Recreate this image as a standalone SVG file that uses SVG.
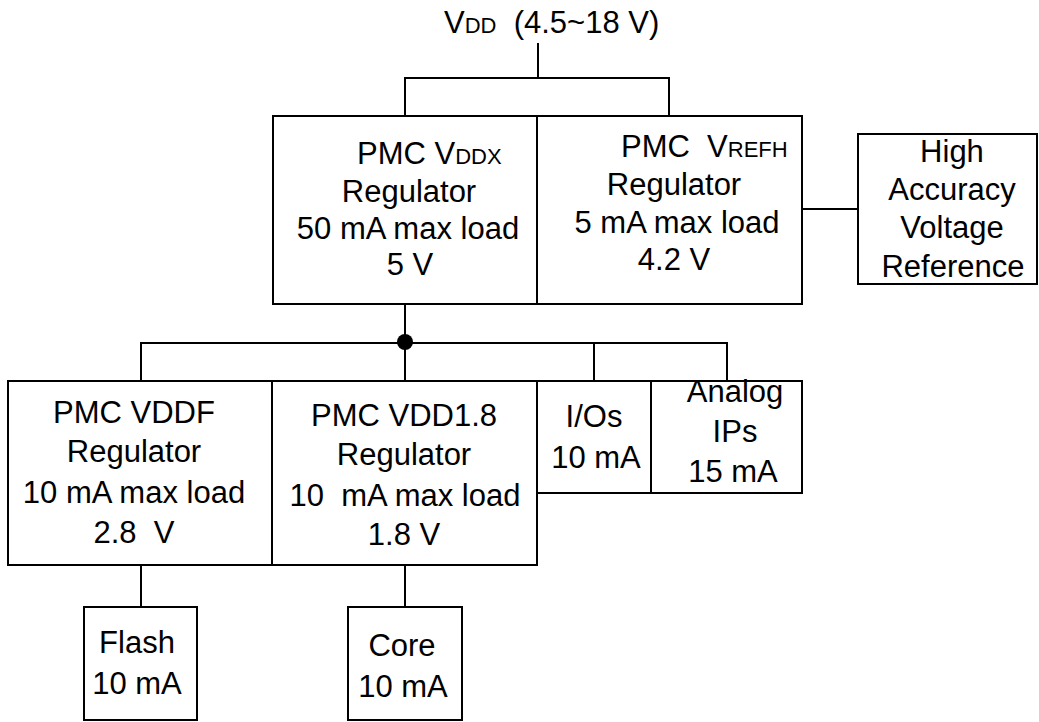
<svg xmlns="http://www.w3.org/2000/svg" width="1039" height="722" viewBox="0 0 1039 722">
<style>
.box{fill:#fff;stroke:#000;stroke-width:2}
.ln{fill:none;stroke:#000;stroke-width:2}
text{font-family:"Liberation Sans",Arial,Helvetica,sans-serif;font-size:31px;fill:#000}
.c{text-anchor:middle}
.s{font-size:22px}
</style>
<rect width="1039" height="722" fill="#fff"/>
<g id="connectors">
<path class="ln" d="M538,43V78M405,116V78H669V116"/>
<path class="ln" d="M802,209H858"/>
<path class="ln" d="M405,304V381M141,381V343H727V381M594,343V381"/>
<circle cx="405" cy="342" r="8" fill="#000"/>
<path class="ln" d="M141,565V607M405,565V607"/>
</g>
<g id="vdd">
<text x="444" y="33" xml:space="preserve">V<tspan class="s">DD</tspan>  (4.5~18 V)</text>
</g>
<g id="vddx">
<rect class="box" x="273" y="116" width="264" height="188"/>
<text x="357" y="164">PMC V<tspan class="s">DDX</tspan></text>
<text class="c" x="409" y="202">Regulator</text>
<text class="c" x="408" y="239">50 mA max load</text>
<text class="c" x="410" y="275">5 V</text>
</g>
<g id="vrefh">
<rect class="box" x="537" y="116" width="265" height="188"/>
<text x="621" y="157" xml:space="preserve">PMC  V<tspan class="s">REFH</tspan></text>
<text class="c" x="674" y="195">Regulator</text>
<text class="c" x="677" y="233">5 mA max load</text>
<text class="c" x="674" y="270">4.2 V</text>
</g>
<g id="hav">
<rect class="box" x="858" y="134" width="179" height="150"/>
<text class="c" x="952" y="162">High</text>
<text class="c" x="952" y="200">Accuracy</text>
<text class="c" x="952" y="238">Voltage</text>
<text class="c" x="953" y="277">Reference</text>
</g>
<g id="vddf">
<rect class="box" x="8" y="381" width="264" height="184"/>
<text class="c" x="134" y="423">PMC VDDF</text>
<text class="c" x="134" y="462">Regulator</text>
<text class="c" x="134" y="503">10 mA max load</text>
<text class="c" x="134" y="543" xml:space="preserve">2.8  V</text>
</g>
<g id="vdd18">
<rect class="box" x="272" y="381" width="265" height="184"/>
<text class="c" x="404" y="426">PMC VDD1.8</text>
<text class="c" x="404" y="465">Regulator</text>
<text class="c" x="405" y="506" xml:space="preserve">10  mA max load</text>
<text class="c" x="404" y="545">1.8 V</text>
</g>
<g id="ios">
<rect class="box" x="537" y="381" width="114" height="112"/>
<text class="c" x="594" y="427">I/Os</text>
<text class="c" x="596" y="468">10 mA</text>
</g>
<g id="analog">
<rect class="box" x="651" y="381" width="151" height="112"/>
<text class="c" x="735" y="402">Analog</text>
<text class="c" x="735" y="442">IPs</text>
<text class="c" x="733" y="482">15 mA</text>
</g>
<g id="flash">
<rect class="box" x="84" y="607" width="113" height="113"/>
<text class="c" x="137" y="653">Flash</text>
<text class="c" x="137" y="694">10 mA</text>
</g>
<g id="core">
<rect class="box" x="348" y="607" width="114" height="113"/>
<text class="c" x="402" y="656">Core</text>
<text class="c" x="403" y="697">10 mA</text>
</g>
</svg>
